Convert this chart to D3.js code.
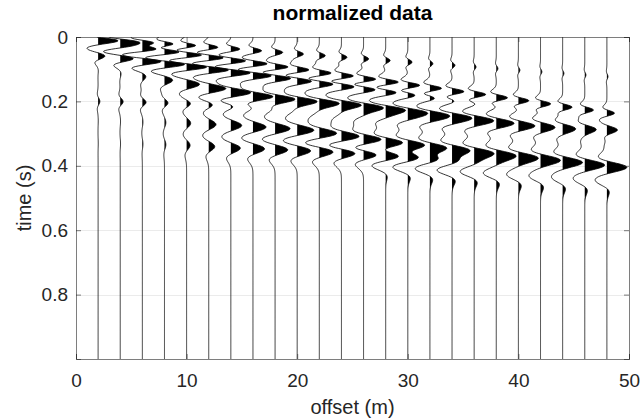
<!DOCTYPE html>
<html><head><meta charset="utf-8">
<script src="https://cdn.jsdelivr.net/npm/d3@7/dist/d3.min.js"></script>
<style>
body{margin:0;background:#fff}
text{font-family:Arial,"Liberation Sans",Helvetica,sans-serif}
</style>
</head><body>
<svg id="chart" width="641" height="420"></svg>
<script>
// ---- data ----
const offsets = [2,4,6,8,10,12,14,16,18,20,22,24,26,28,30,32,34,36,38,40,42,44,46,48];
const xTickValues = [0,10,20,30,40,50];
const yTickValues = [0,0.2,0.4,0.6,0.8];
const titleText = "normalized data";
const xLabelText = "offset (m)";
const yLabelText = "time (s)";

// arrival times (s) of each visible event on every trace, and relative strength
const evG_time = [.008,.013,.018,.023,.028,.033,.038,.043,.048,.053,.058,.063,.068,.073,.078,.083,.088,.093,.098,.103,.108,.113,.118,.123];
const evG_amp  = [2.6,2.2,1.8,1.4,1.1,0.9,0.7,0.6,0.5,0.4,0.35,0.3,0.25,0.2,0.2,0.15,0.15,0.1,0.1,0.1,0.1,0.1,0.1,0.1];
const evA_time = [.018,.027,.037,.046,.056,.065,.075,.084,.094,.103,.113,.122,.132,.141,.151,.160,.170,.179,.189,.198,.208,.218,.227,.237];
const evA_amp  = [2.2,2.2,2.0,1.8,1.6,1.4,1.25,1.1,1.0,0.9,0.85,0.8,0.75,0.7,0.7,0.7,0.7,0.7,0.75,0.75,0.8,0.8,0.8,0.8];
const evB_time = [.059,.067,.076,.085,.093,.102,.111,.120,.128,.137,.146,.154,.163,.172,.180,.189,.198,.207,.215,.224,.233,.241,.250,.259];
const evB_amp  = [1.2,1.4,1.6,1.8,1.8,1.7,1.5,1.3,1.1,1.0,0.9,0.8,0.7,0.6,0.5,0.4,0.3,0.25,0.2,0.15,0.15,0.15,0.15,0.15];
const evC_time = [.100,.112,.122,.134,.147,.160,.173,.186,.194,.201,.207,.212,.220,.227,.235,.243,.250,.258,.266,.274,.279,.284,.287,.289];
const evC_amp  = [0.05,0.1,0.3,0.7,1.1,1.4,1.5,1.5,1.5,1.5,1.4,1.3,1.2,1.1,1.1,1.1,1.1,1.1,1.1,1.1,1.1,1.1,1.1,1.1];
const evF_time = [.200,.201,.203,.205,.207,.210,.214,.218,.222,.227,.232,.237,.243,.249,.255,.261,.268,.275,.282,.289,.296,.303,.310,.318];
const evF_amp  = [0.3,0.3,0.3,0.3,0.35,0.4,0.45,0.5,0.5,0.5,0.5,0.5,0.5,0.5,0.5,0.45,0.4,0.35,0.3,0.3,0.3,0.3,0.3,0.3];
const evD_time = [.260,.262,.264,.266,.268,.272,.275,.280,.285,.290,.300,.310,.320,.330,.337,.345,.352,.360,.367,.374,.381,.388,.396,.403];
const evD_amp  = [0.02,0.03,0.05,0.12,0.35,0.6,0.8,0.9,1.0,1.1,1.1,1.1,1.1,1.1,1.15,1.2,1.2,1.25,1.3,1.35,1.4,1.45,1.5,1.6];
const evE_time = [.330,.331,.332,.334,.336,.340,.345,.347,.350,.353,.356,.360,.364,.368,.372,.377,.382,.387,.392,.397,.402,.407,.412,.418];
const evE_amp  = [0.02,0.03,0.05,0.12,0.3,0.5,0.7,0.8,0.85,0.9,0.9,0.9,0.9,0.9,0.85,0.8,0.7,0.6,0.5,0.4,0.3,0.2,0.2,0.2];
const evH_time = [.400,.400,.400,.400,.400,.400,.400,.400,.400,.400,.400,.400,.400,.400,.405,.410,.415,.420,.425,.430,.435,.440,.445,.450];
const evH_amp  = [0,0,0,0,0,0,0,0,0,0,0,0,0,-0.2,-0.3,-0.35,-0.4,-0.4,-0.45,-0.45,-0.5,-0.5,-0.5,-0.5];
const eventFreq = {G:22, A:20, B:18, C:14, F:16, D:12, E:12, H:12};

// ---- build traces ----
const events = [
  {t:evG_time,a:evG_amp,f:eventFreq.G},
  {t:evA_time,a:evA_amp,f:eventFreq.A},
  {t:evB_time,a:evB_amp,f:eventFreq.B},
  {t:evC_time,a:evC_amp,f:eventFreq.C},
  {t:evF_time,a:evF_amp,f:eventFreq.F},
  {t:evD_time,a:evD_amp,f:eventFreq.D},
  {t:evE_time,a:evE_amp,f:eventFreq.E},
  {t:evH_time,a:evH_amp,f:eventFreq.H}
];
const dt = 0.002, tMax = 1.0;
const times = d3.range(0, tMax + dt/2, dt);
function ricker(tau, f){ const p = Math.PI*Math.PI*f*f*tau*tau; return (1-2*p)*Math.exp(-p); }
const traces = offsets.map((off, i) => {
  const v = times.map(t => d3.sum(events, e => e.a[i]*ricker(t - e.t[i], e.f)));
  const mx = d3.max(v, d => Math.abs(d)) || 1;
  return {off, pts: times.map((t, j) => ({t, v: v[j]/mx}))};
});

// ---- layout ----
const svg = d3.select("#chart");
const x = d3.scaleLinear().domain([0,50]).range([76,629]);
const y = d3.scaleLinear().domain([0,1]).range([37,359]);
const gain = 1.8;   // max deflection in offset units
const textCol = "#262626";

// grid
svg.append("g").selectAll("line").data(yTickValues.filter(d=>d>0)).join("line")
  .attr("x1",x(0)).attr("x2",x(50)).attr("y1",d=>Math.round(y(d))+0.5).attr("y2",d=>Math.round(y(d))+0.5)
  .attr("stroke","#ebebeb").attr("stroke-width",1);

svg.append("defs").append("clipPath").attr("id","clip").append("rect")
  .attr("x",x(0)).attr("y",y(0)).attr("width",x(50)-x(0)).attr("height",y(1)-y(0));

const plot = svg.append("g").attr("clip-path","url(#clip)");
const area = d3.area().y(d=>y(d.t));
const line = d3.line().y(d=>y(d.t));
traces.forEach(tr => {
  plot.append("path")
    .attr("d", area.x0(x(tr.off)).x1(d=>x(tr.off + Math.max(0,d.v)*gain))(tr.pts))
    .attr("fill","#000").attr("stroke","none");
  plot.append("path")
    .attr("d", line.x(d=>x(tr.off + d.v*gain))(tr.pts))
    .attr("fill","none").attr("stroke","#000").attr("stroke-width",0.8);
});

// axes box
const axCol = "#262626";
const axG = svg.append("g");
axG.append("g").attr("transform",`translate(0,${y(1)})`)
  .call(d3.axisBottom(x).tickValues(xTickValues).tickSize(-5).tickPadding(15).tickFormat(d3.format("d")));
axG.append("g").attr("transform",`translate(0,${y(0)})`)
  .call(d3.axisTop(x).tickValues(xTickValues).tickSize(-5).tickFormat(""));
axG.append("g").attr("transform",`translate(${x(0)},0)`)
  .call(d3.axisLeft(y).tickValues(yTickValues).tickSize(-5).tickPadding(8).tickFormat(d=>d===0?"0":d3.format(".1f")(d)));
axG.append("g").attr("transform",`translate(${x(50)},0)`)
  .call(d3.axisRight(y).tickValues(yTickValues).tickSize(-5).tickFormat(""));
axG.selectAll(".domain").attr("stroke",axCol).attr("stroke-width",0.6);
axG.selectAll(".tick line").attr("stroke",axCol).attr("stroke-width",0.6);
axG.selectAll(".tick text").attr("fill",textCol).style("font-size","19px")
  .style("font-family","Arial, 'Liberation Sans', Helvetica, sans-serif");

svg.append("text").attr("x",(x(0)+x(50))/2).attr("y",20).attr("text-anchor","middle")
  .attr("font-weight","bold").style("font-size","21px").attr("fill","#000").text(titleText);
svg.append("text").attr("x",(x(0)+x(50))/2).attr("y",414).attr("text-anchor","middle")
  .style("font-size","20px").attr("fill",textCol).text(xLabelText);
svg.append("text").attr("transform",`translate(31,${(y(0)+y(1))/2}) rotate(-90)`).attr("text-anchor","middle")
  .style("font-size","20px").attr("fill",textCol).text(yLabelText);
</script>
</body></html>
